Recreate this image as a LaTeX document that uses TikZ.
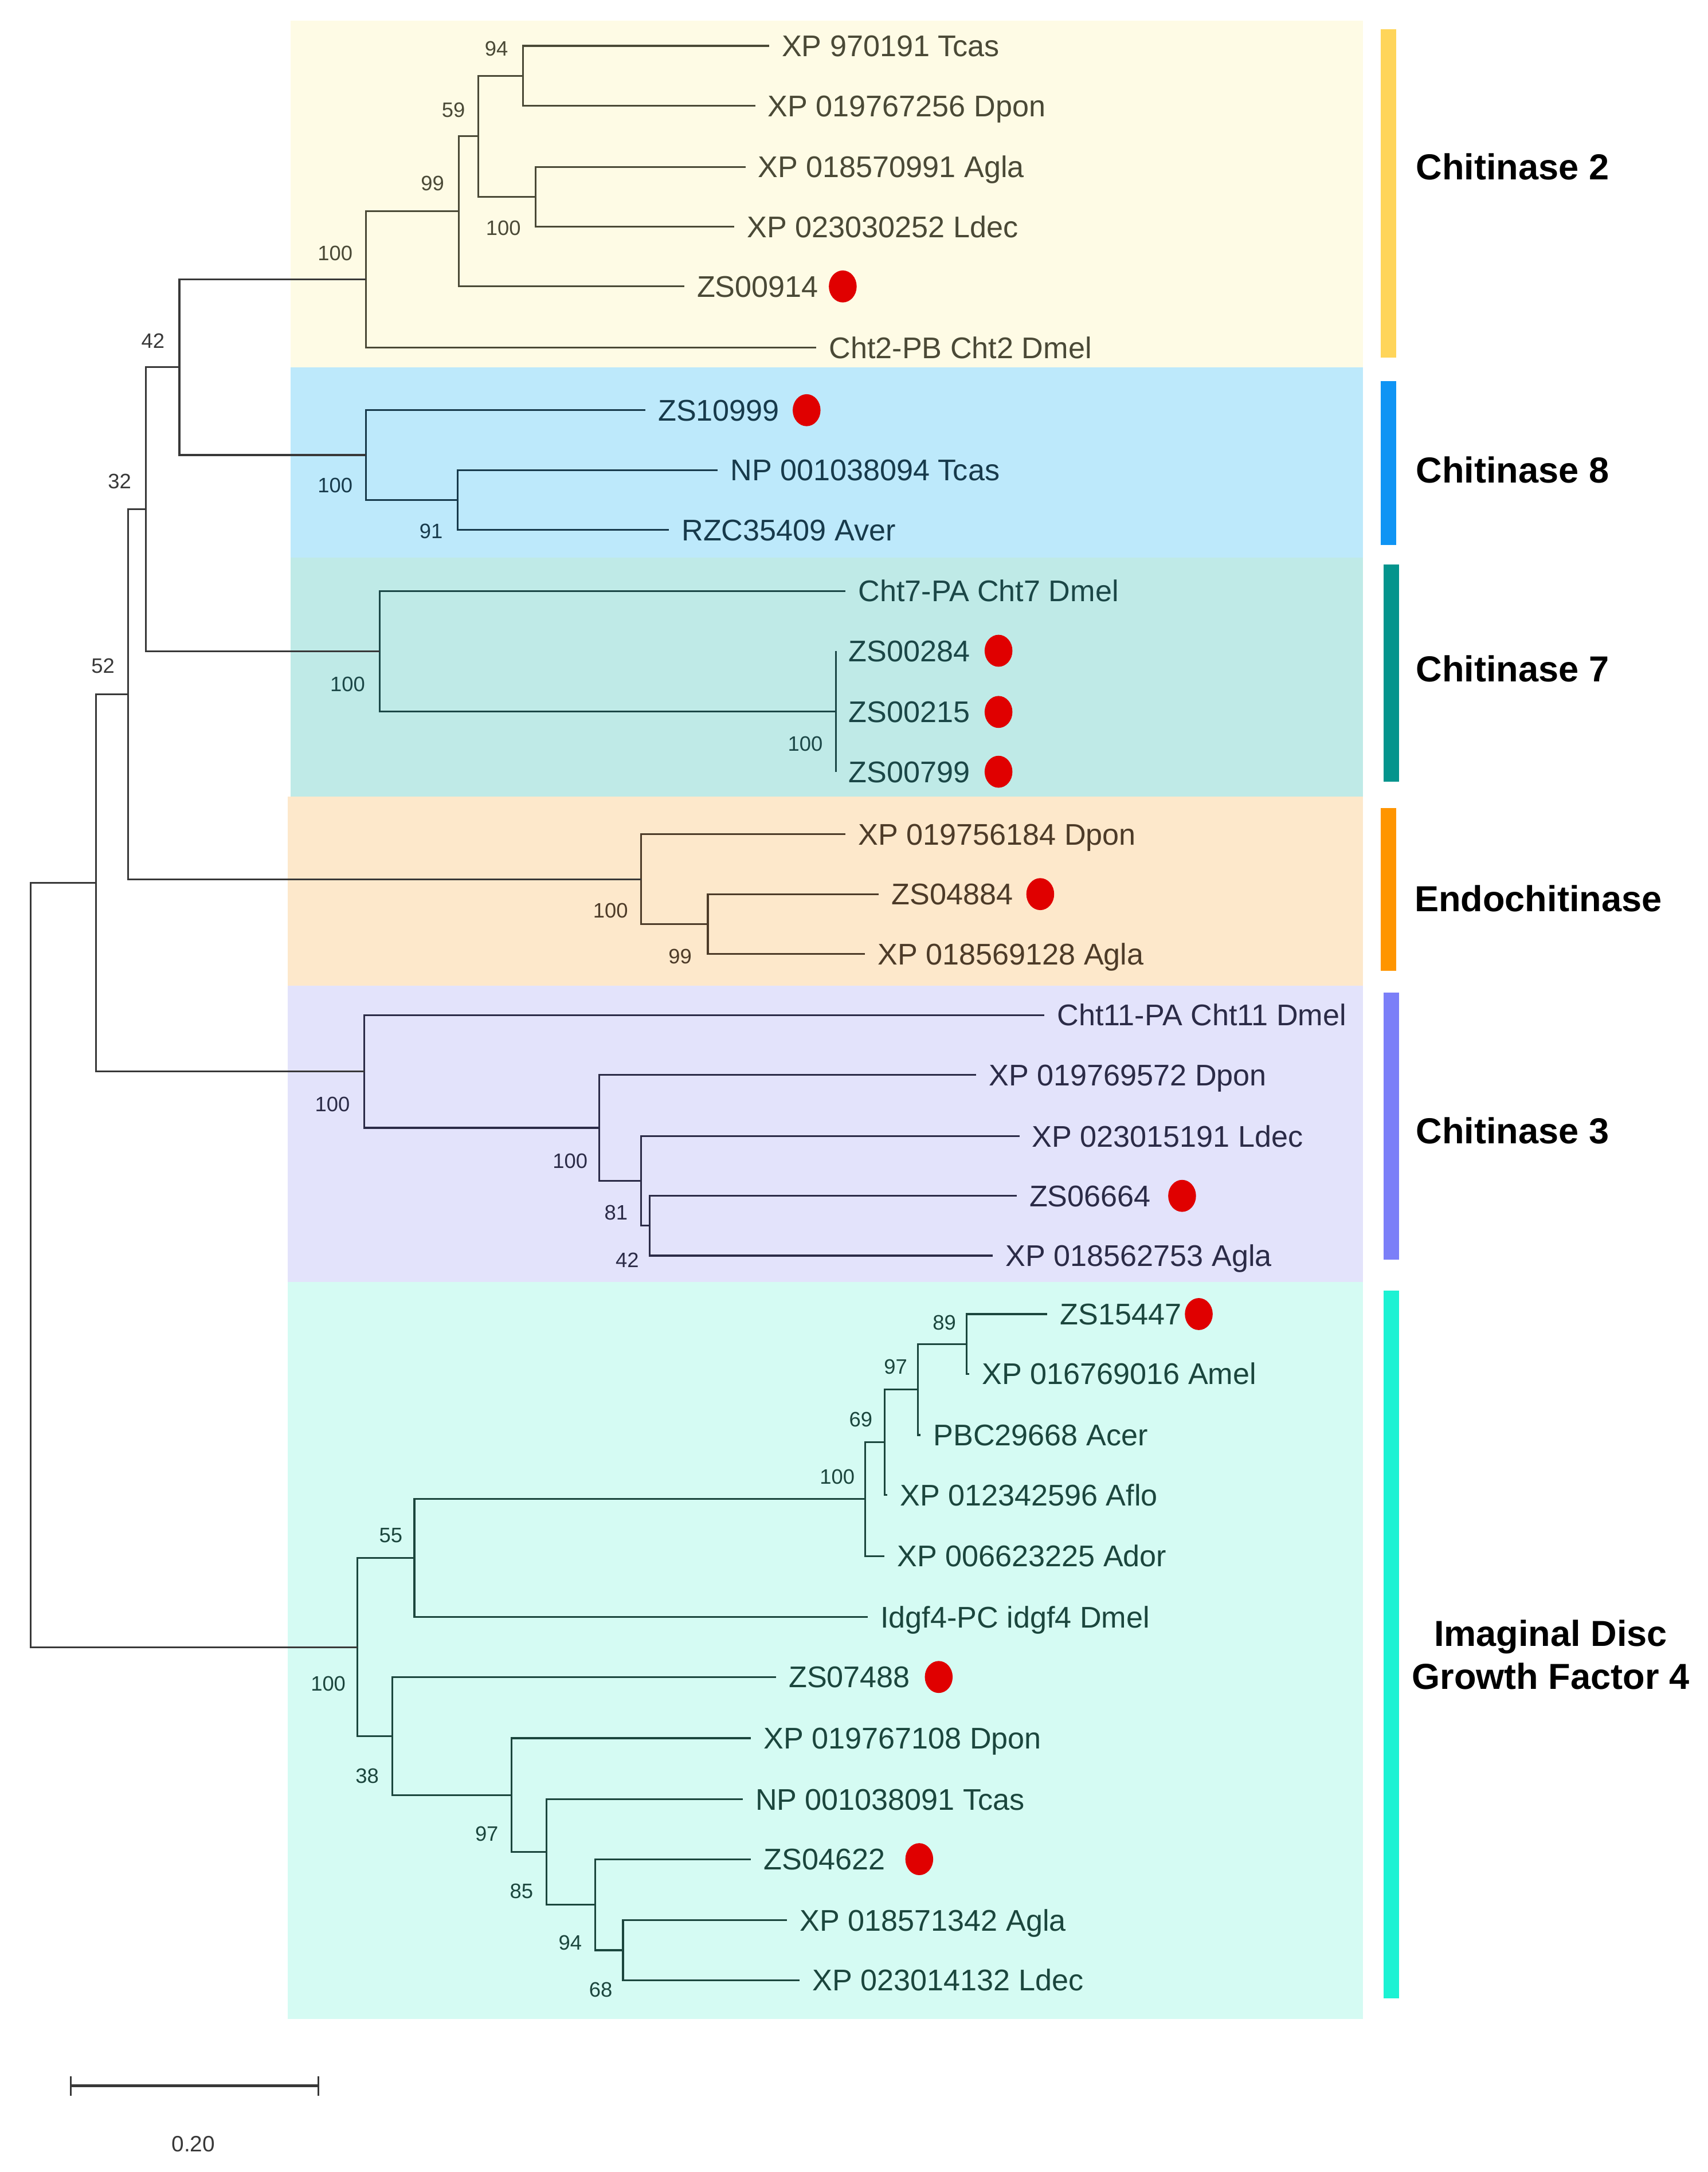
\documentclass[tikz,border=0pt]{standalone}
\usepackage{fontspec}
\setmainfont{Liberation Sans}
\usetikzlibrary{shapes.geometric}
\definecolor{bgA}{HTML}{FEFBE5}
\definecolor{bgB}{HTML}{BDE9FB}
\definecolor{bgC}{HTML}{BFEAE7}
\definecolor{bgD}{HTML}{FDE8CB}
\definecolor{bgE}{HTML}{E3E3FB}
\definecolor{bgF}{HTML}{D5FBF3}
\definecolor{brA}{HTML}{FFD55A}
\definecolor{brB}{HTML}{0F94F4}
\definecolor{brC}{HTML}{04948D}
\definecolor{brD}{HTML}{FF9500}
\definecolor{brE}{HTML}{7B7FF8}
\definecolor{brF}{HTML}{1CF2D3}
\definecolor{txA}{HTML}{4A4936}
\definecolor{txB}{HTML}{173A4B}
\definecolor{txC}{HTML}{1B4747}
\definecolor{txD}{HTML}{4D3B28}
\definecolor{txE}{HTML}{2B2B47}
\definecolor{txF}{HTML}{1B463D}
\definecolor{txO}{HTML}{383838}
\definecolor{dotred}{HTML}{E00000}
\begin{document}
\begin{tikzpicture}[x=1pt,y=-1pt,
  tl/.style={line width=1.3pt},
  leaf/.style={anchor=west, inner xsep=9pt, inner ysep=0pt, text height=20pt, text depth=4.6pt, font=\fontsize{21.5}{24}\selectfont},
  boot/.style={inner sep=0pt, font=\fontsize{15}{17}\selectfont},
  cladelab/.style={anchor=west, inner sep=0pt, font=\bfseries\fontsize{26}{31}\selectfont, text=black},
  reddot/.style={ellipse, fill=dotred, minimum width=20pt, minimum height=23pt, inner sep=0pt}
]
\useasboundingbox (0,0) rectangle (1228,1562);
% background bands
\fill[bgA] (209,15) rectangle (980,264);
\fill[bgB] (209,264) rectangle (980,401);
\fill[bgC] (209,401) rectangle (980,573);
\fill[bgD] (207,573) rectangle (980,709);
\fill[bgE] (207,709) rectangle (980,922);
\fill[bgF] (207,922) rectangle (980,1452);
% side bars
\fill[brA] (993,21) rectangle (1004,257);
\fill[brB] (993,274) rectangle (1004,392);
\fill[brC] (995,406) rectangle (1006,562);
\fill[brD] (993,581) rectangle (1004,698);
\fill[brE] (995,714) rectangle (1006,906);
\fill[brF] (995,928) rectangle (1006,1437);
% clade labels
\node[cladelab] (cA) at (1018,120) {Chitinase 2};
\node[cladelab] (cB) at (1018,338) {Chitinase 8};
\node[cladelab] (cC) at (1018,481) {Chitinase 7};
\node[cladelab] (cD) at (1017,646) {Endochitinase};
\node[cladelab] (cE) at (1018,813) {Chitinase 3};
\node[inner sep=0pt, align=center, font=\bfseries\fontsize{26}{31}\selectfont] (cF) at (1115,1190) {Imaginal Disc\\Growth Factor 4};

% internal nodes
\coordinate (n94) at (376,54.5);
\coordinate (n100a) at (385,141.5);
\coordinate (n59) at (344,98);
\coordinate (n99) at (330,152);
\coordinate (n100b) at (263,201);
\coordinate (n91) at (329,359.5);
\coordinate (n100c) at (263,327.25);
\coordinate (n42) at (129,264.1);
\coordinate (n100d) at (601,511.5);
\coordinate (n100e) at (273,468.25);
\coordinate (n32) at (105,366.2);
\coordinate (n99b) at (509,664.5);
\coordinate (n100f) at (461,632.25);
\coordinate (n52) at (92,499.2);
\coordinate (n42b) at (467,881.5);
\coordinate (n81) at (461,849.25);
\coordinate (n100g) at (431,811.1);
\coordinate (n100h) at (262,770.6);
\coordinate (n69) at (69,634.9);
\coordinate (n89) at (695,966.5);
\coordinate (n97) at (660,999.25);
\coordinate (n69b) at (636,1037.1);
\coordinate (n100i) at (622,1078.1);
\coordinate (n55) at (298,1120.5);
\coordinate (n68) at (448,1402.5);
\coordinate (n94b) at (428,1369.75);
\coordinate (n85) at (393,1331.9);
\coordinate (n97b) at (368,1290.9);
\coordinate (n38) at (282,1248.5);
\coordinate (n100j) at (257,1184.5);
\coordinate (root) at (22,909.7);

% leaves
\node[leaf, text=txA] (L1) at (553,33) {XP 970191 Tcas};
\node[leaf, text=txA] (L2) at (543,76) {XP 019767256 Dpon};
\node[leaf, text=txA] (L3) at (536,120) {XP 018570991 Agla};
\node[leaf, text=txA] (L4) at (528,163) {XP 023030252 Ldec};
\node[leaf, text=txA] (L5) at (492,206) {ZS00914};
\node[leaf, text=txA] (L6) at (587,250) {Cht2-PB Cht2 Dmel};
\node[leaf, text=txB] (L7) at (464,295) {ZS10999};
\node[leaf, text=txB] (L8) at (516,338) {NP 001038094 Tcas};
\node[leaf, text=txB] (L9) at (481,381) {RZC35409 Aver};
\node[leaf, text=txC] (L10) at (608,425) {Cht7-PA Cht7 Dmel};
\node[leaf, text=txC] (L11) at (601,468) {ZS00284};
\node[leaf, text=txC] (L12) at (601,512) {ZS00215};
\node[leaf, text=txC] (L13) at (601,555) {ZS00799};
\node[leaf, text=txD] (L14) at (608,600) {XP 019756184 Dpon};
\node[leaf, text=txD] (L15) at (632,643) {ZS04884};
\node[leaf, text=txD] (L16) at (622,686) {XP 018569128 Agla};
\node[leaf, text=txE] (L17) at (751,730) {Cht11-PA Cht11 Dmel};
\node[leaf, text=txE] (L18) at (702,773) {XP 019769572 Dpon};
\node[leaf, text=txE] (L19) at (733,817) {XP 023015191 Ldec};
\node[leaf, text=txE] (L20) at (731,860) {ZS06664};
\node[leaf, text=txE] (L21) at (714,903) {XP 018562753 Agla};
\node[leaf, text=txF] (L22) at (753,945) {ZS15447};
\node[leaf, text=txF] (L23) at (697,988) {XP 016769016 Amel};
\node[leaf, text=txF] (L24) at (662,1032) {PBC29668 Acer};
\node[leaf, text=txF] (L25) at (638,1075) {XP 012342596 Aflo};
\node[leaf, text=txF] (L26) at (636,1119) {XP 006623225 Ador};
\node[leaf, text=txF] (L27) at (624,1163) {Idgf4-PC idgf4 Dmel};
\node[leaf, text=txF] (L28) at (558,1206) {ZS07488};
\node[leaf, text=txF] (L29) at (540,1250) {XP 019767108 Dpon};
\node[leaf, text=txF] (L30) at (534,1294) {NP 001038091 Tcas};
\node[leaf, text=txF] (L31) at (540,1337) {ZS04622};
\node[leaf, text=txF] (L32) at (566,1381) {XP 018571342 Agla};
\node[leaf, text=txF] (L33) at (575,1424) {XP 023014132 Ldec};

% red dots
\node[reddot] (d1) at (606,206) {};
\node[reddot] (d2) at (580,295) {};
\node[reddot] (d3) at (718,468) {};
\node[reddot] (d4) at (718,512) {};
\node[reddot] (d5) at (718,555) {};
\node[reddot] (d6) at (748,643) {};
\node[reddot] (d7) at (850,860) {};
\node[reddot] (d8) at (862,945) {};
\node[reddot] (d9) at (675,1206) {};
\node[reddot] (d10) at (661,1337) {};

% branches: Chitinase 2
\begin{scope}[tl, draw=txA]
\draw (n94) |- (L1.west);
\draw (n94) |- (L2.west);
\draw (n100a) |- (L3.west);
\draw (n100a) |- (L4.west);
\draw (n59) |- (n94);
\draw (n59) |- (n100a);
\draw (n99) |- (n59);
\draw (n99) |- (L5.west);
\draw (n100b) |- (n99);
\draw (n100b) |- (L6.west);
\end{scope}
% Chitinase 8
\begin{scope}[tl, draw=txB]
\draw (n91) |- (L8.west);
\draw (n91) |- (L9.west);
\draw (n100c) |- (L7.west);
\draw (n100c) |- (n91);
\end{scope}
% Chitinase 7
\begin{scope}[tl, draw=txC]
\draw (n100d) |- (L11.west);
\draw (n100d) |- (L12.west);
\draw (n100d) |- (L13.west);
\draw (n100e) |- (L10.west);
\draw (n100e) |- (n100d);
\end{scope}
% Endochitinase
\begin{scope}[tl, draw=txD]
\draw (n99b) |- (L15.west);
\draw (n99b) |- (L16.west);
\draw (n100f) |- (L14.west);
\draw (n100f) |- (n99b);
\end{scope}
% Chitinase 3
\begin{scope}[tl, draw=txE]
\draw (n42b) |- (L20.west);
\draw (n42b) |- (L21.west);
\draw (n81) |- (L19.west);
\draw (n81) |- (n42b);
\draw (n100g) |- (L18.west);
\draw (n100g) |- (n81);
\draw (n100h) |- (L17.west);
\draw (n100h) |- (n100g);
\end{scope}
% IDGF4
\begin{scope}[tl, draw=txF]
\draw (n89) |- (L22.west);
\draw (n89) |- (L23.west);
\draw (n97) |- (n89);
\draw (n97) |- (L24.west);
\draw (n69b) |- (n97);
\draw (n69b) |- (L25.west);
\draw (n100i) |- (n69b);
\draw (n100i) |- (L26.west);
\draw (n55) |- (n100i);
\draw (n55) |- (L27.west);
\draw (n68) |- (L32.west);
\draw (n68) |- (L33.west);
\draw (n94b) |- (L31.west);
\draw (n94b) |- (n68);
\draw (n85) |- (L30.west);
\draw (n85) |- (n94b);
\draw (n97b) |- (L29.west);
\draw (n97b) |- (n85);
\draw (n38) |- (L28.west);
\draw (n38) |- (n97b);
\draw (n100j) |- (n55);
\draw (n100j) |- (n38);
\end{scope}
% backbone
\begin{scope}[tl, draw=txO]
\draw (n42) |- (n100b);
\draw (n42) |- (n100c);
\draw (n32) |- (n42);
\draw (n32) |- (n100e);
\draw (n52) |- (n32);
\draw (n52) |- (n100f);
\draw (n69) |- (n52);
\draw (n69) |- (n100h);
\draw (root) |- (n69);
\draw (root) |- (n100j);
\end{scope}

% bootstrap values
\node[boot, text=txA] (b1) at (357,35) {94};
\node[boot, text=txA] (b2) at (326,79) {59};
\node[boot, text=txA] (b3) at (311,132) {99};
\node[boot, text=txA] (b4) at (362,164) {100};
\node[boot, text=txA] (b5) at (241,182) {100};
\node[boot, text=txO] (b6) at (110,245) {42};
\node[boot, text=txB] (b7) at (241,349) {100};
\node[boot, text=txB] (b8) at (310,382) {91};
\node[boot, text=txO] (b9) at (86,346) {32};
\node[boot, text=txC] (b10) at (250,492) {100};
\node[boot, text=txC] (b11) at (579,535) {100};
\node[boot, text=txO] (b12) at (74,479) {52};
\node[boot, text=txD] (b13) at (439,655) {100};
\node[boot, text=txD] (b14) at (489,688) {99};
\node[boot, text=txE] (b15) at (239,794) {100};
\node[boot, text=txE] (b16) at (410,835) {100};
\node[boot, text=txE] (b17) at (443,872) {81};
\node[boot, text=txE] (b18) at (451,906) {42};
\node[boot, text=txF] (b19) at (679,951) {89};
\node[boot, text=txF] (b20) at (644,983) {97};
\node[boot, text=txF] (b21) at (619,1021) {69};
\node[boot, text=txF] (b22) at (602,1062) {100};
\node[boot, text=txF] (b23) at (281,1104) {55};
\node[boot, text=txF] (b24) at (236,1211) {100};
\node[boot, text=txF] (b25) at (264,1277) {38};
\node[boot, text=txF] (b26) at (350,1319) {97};
\node[boot, text=txF] (b27) at (375,1360) {85};
\node[boot, text=txF] (b28) at (410,1397) {94};
\node[boot, text=txF] (b29) at (432,1431) {68};

% scale bar
\coordinate (sbL) at (51,1500);
\coordinate (sbR) at (229,1500);
\draw[line width=2pt, draw=txO] (sbL) -- (sbR);
\draw[line width=1.2pt, draw=txO] ([yshift=-7pt]sbL) -- ([yshift=7pt]sbL);
\draw[line width=1.2pt, draw=txO] ([yshift=-7pt]sbR) -- ([yshift=7pt]sbR);
\node[inner sep=0pt, font=\fontsize{16}{18}\selectfont, text=txO] (sbt) at (139,1542) {0.20};
\end{tikzpicture}
\end{document}
